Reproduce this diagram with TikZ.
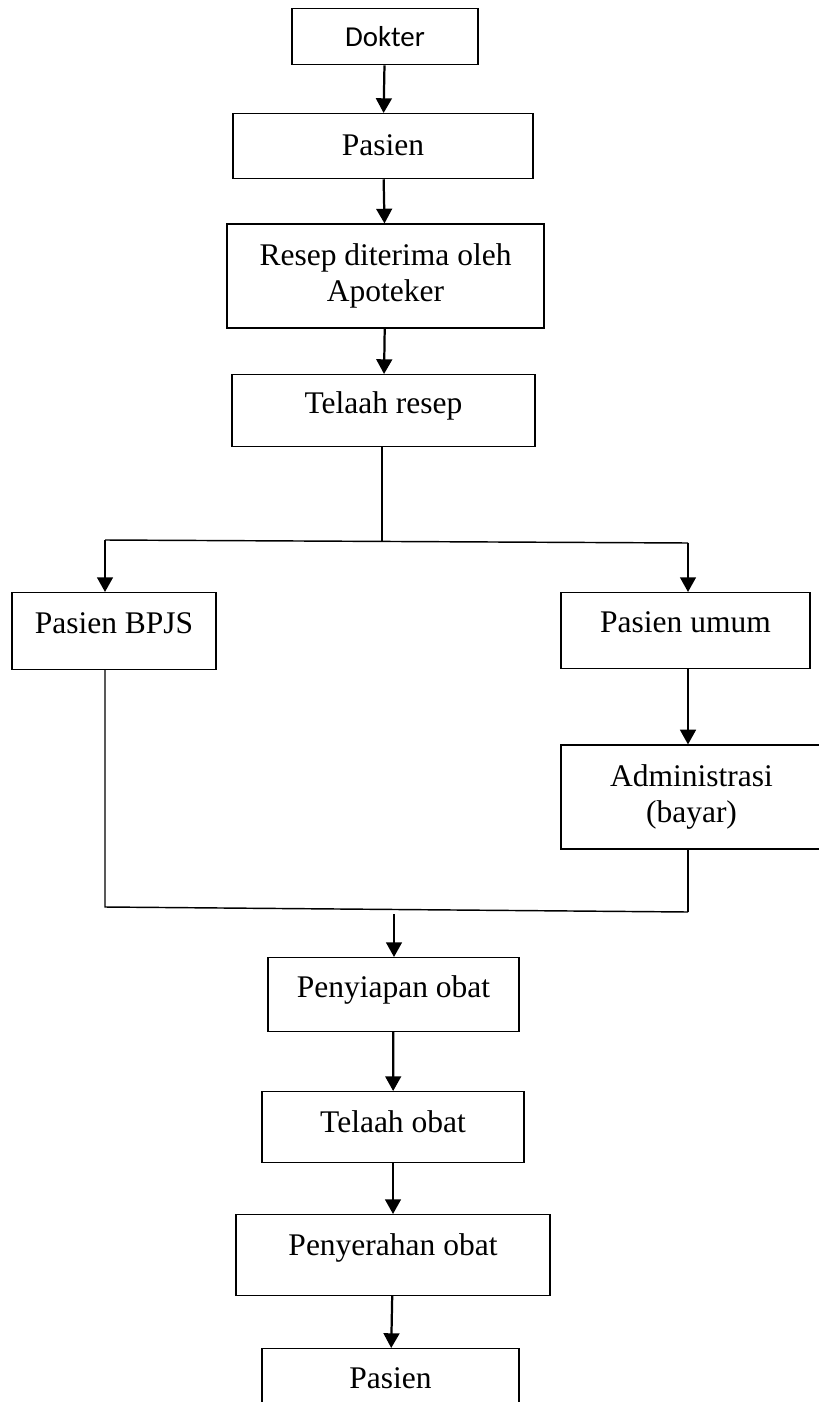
\documentclass[tikz,border=0pt]{standalone}
\usepackage{fontspec}
\setmainfont{Liberation Serif}
\newfontfamily\calibrifont{Carlito}
\usepackage{tikz}
\usetikzlibrary{arrows.meta}

\begin{document}
\begin{tikzpicture}[x=0.381pt, y=-0.381pt,
    box/.style={draw, line width=0.45pt, inner sep=0pt, font=\fontsize{12}{14}\selectfont},
    oneline/.style={anchor=north, text height=15.2pt, text depth=#1},
    arr/.style={line width=0.85pt, -{Triangle[width=6pt, length=5.6pt]}},
    conn/.style={line width=0.55pt}]
    \useasboundingbox (0, 0) rectangle (818, 1402);

    % Dokter to telaah resep
    \node[box, oneline=6.9pt, minimum width=70.9pt, text height=14.5pt, font=\calibrifont\fontsize{11}{13}\selectfont] (dokter) at (385, 8) {Dokter};
    \node[box, oneline=8.8pt, minimum width=114.3pt, text height=16pt] (pasien1) at (383, 113) {Pasien};
    \node[box, align=center, minimum width=120.8pt, minimum height=39.6pt] (resep) at (385.5, 276) {Resep diterima oleh\\Apoteker};
    \node[box, oneline=12.6pt, minimum width=115.4pt, text height=14.9pt] (telaahresep) at (383.5, 374) {Telaah resep};

    % the two kinds of patient
    \coordinate (splitM) at (382, 541);
    \coordinate (splitL) at (105, 540);
    \coordinate (splitR) at (688, 543);
    \node[box, oneline=13.7pt, minimum width=77.7pt, text height=15.6pt] (bpjs) at (114, 592) {Pasien BPJS};
    \node[box, oneline=13.7pt, minimum width=94.9pt] (umum) at (685.5, 592) {Pasien umum};
    \node[box, align=center, minimum width=99.4pt, minimum height=39.6pt] (admin) at (691.5, 797) {Administrasi\\(bayar)};

    % back together
    \coordinate (joinL) at (105, 907);
    \coordinate (joinR) at (688, 912);
    \coordinate (mergeM) at (394, 914);
    \node[box, oneline=13pt, minimum width=95.6pt] (penyiapan) at (393.5, 957) {Penyiapan obat};
    \node[box, oneline=11.4pt, minimum width=99.8pt, text height=15.6pt] (telaahobat) at (393, 1091) {Telaah obat};
    \node[box, oneline=15.2pt, minimum width=119.6pt, text height=15.6pt] (penyerahan) at (393, 1214) {Penyerahan obat};
    \node[box, oneline=12.2pt, minimum width=97.9pt] (pasien2) at (390.5, 1348) {Pasien};

    % connectors
    \draw[arr] (dokter) -- (pasien1);
    \draw[arr] (pasien1) -- (resep);
    \draw[arr] (resep) -- (telaahresep);
    \draw[conn] (telaahresep.south -| splitM) -- (splitM);
    \draw[conn] (splitL) -- (splitR);
    \draw[arr] (splitL) -- (splitL |- bpjs.north);
    \draw[arr] (splitR) -- (splitR |- umum.north);
    \draw[arr] (umum.south -| splitR) -- (admin.north -| splitR);
    \draw[conn] (bpjs.south -| joinL) -- (joinL) -- (joinR);
    \draw[conn] (admin.south -| joinR) -- (joinR);
    \draw[arr] (mergeM) -- (mergeM |- penyiapan.north);
    \draw[arr] (penyiapan) -- (telaahobat);
    \draw[arr] (telaahobat) -- (penyerahan);
    \draw[arr] (penyerahan) -- (pasien2);
\end{tikzpicture}
\end{document}
